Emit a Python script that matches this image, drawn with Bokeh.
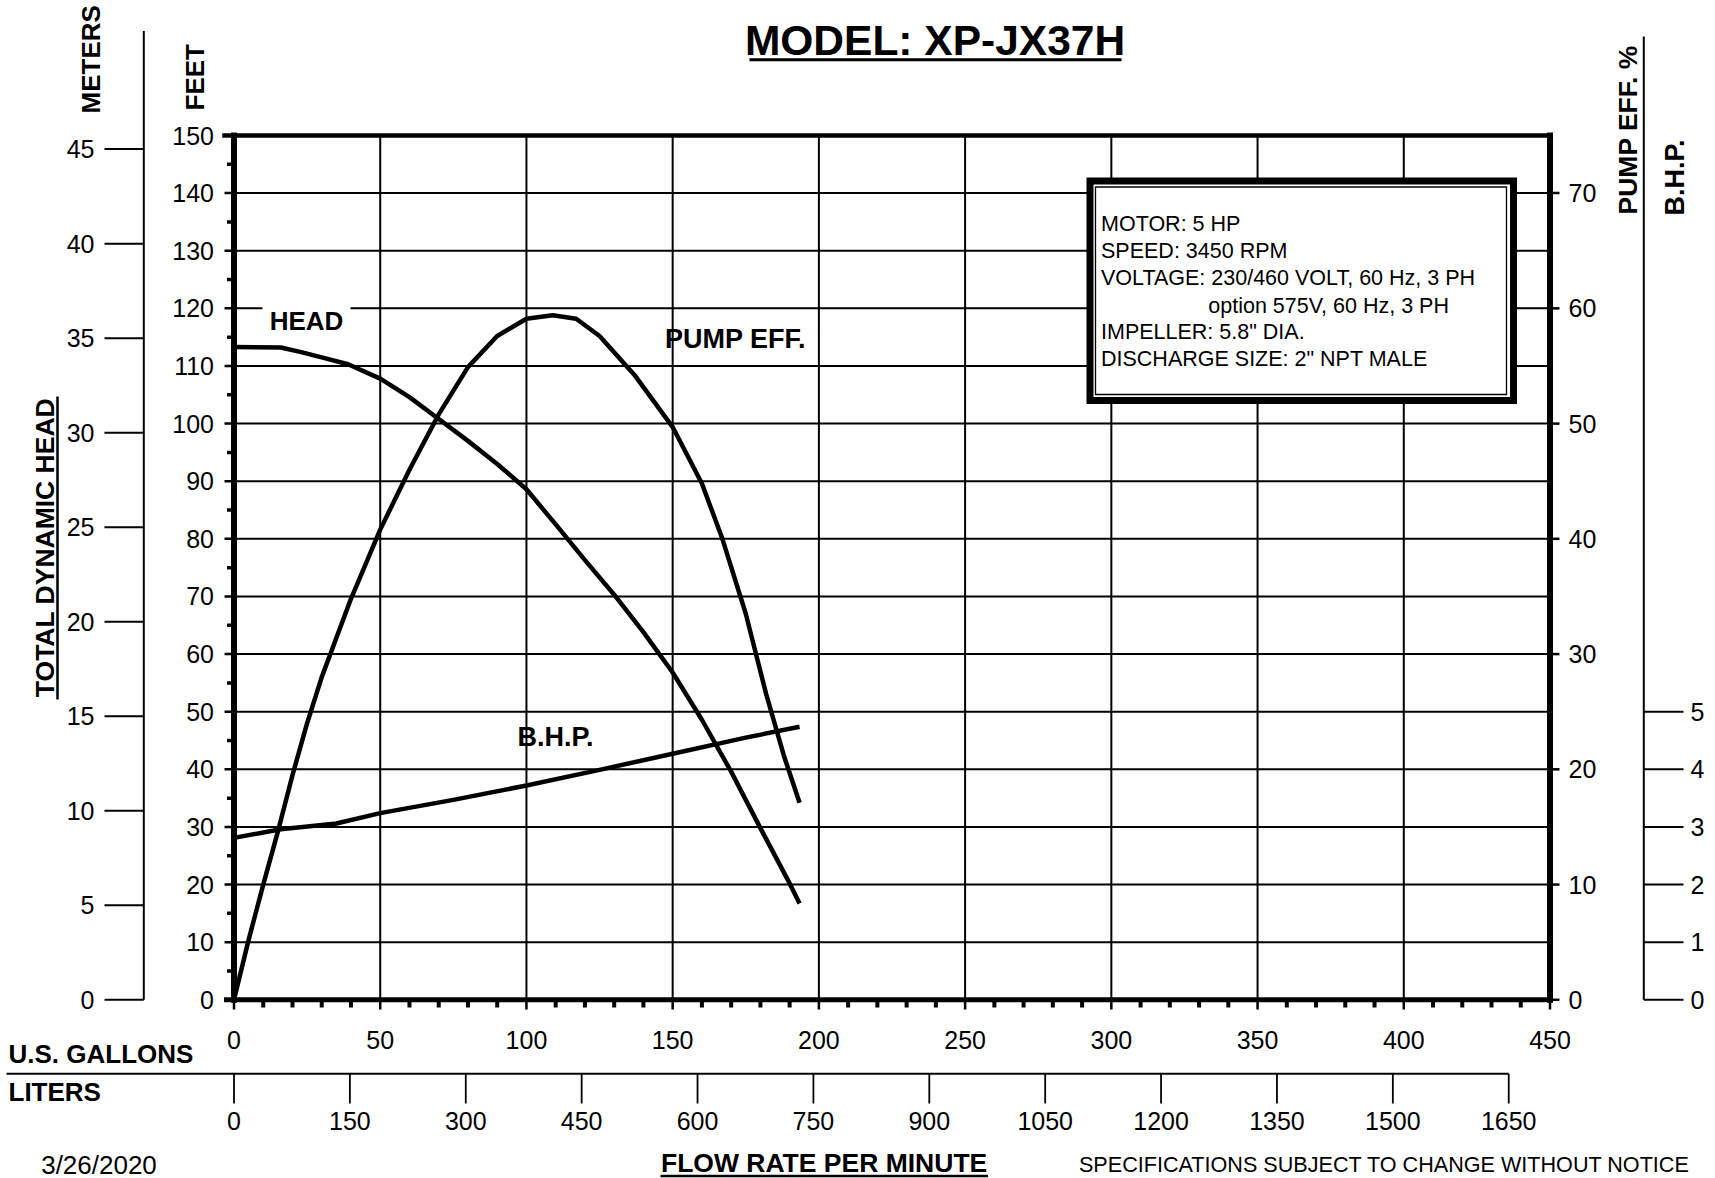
import math
from bokeh.plotting import figure
from bokeh.models import Range1d
from bokeh.core.properties import value
from bokeh.embed import file_html
from bokeh.resources import INLINE

# ---------------- data ----------------
GPM_MAX = 450
FT_MAX = 150
gpm_ticks = [0, 50, 100, 150, 200, 250, 300, 350, 400, 450]
gpm_minor = [g for g in range(10, 450, 10) if g % 50]
feet_ticks = [0, 10, 20, 30, 40, 50, 60, 70, 80, 90, 100, 110, 120, 130, 140, 150]
feet_minor = [5, 15, 25, 35, 45, 55, 65, 75, 85, 95, 105, 115, 125, 135, 145]
meter_ticks = [0, 5, 10, 15, 20, 25, 30, 35, 40, 45]
liter_ticks = [0, 150, 300, 450, 600, 750, 900, 1050, 1200, 1350, 1500, 1650]
eff_ticks = [0, 10, 20, 30, 40, 50, 60, 70]
bhp_ticks = [0, 1, 2, 3, 4, 5]

FT_PER_M = 3.28084
L_PER_GAL = 3.78541
FT_PER_PCT = 2.0     # right axis: 70 % sits on 140 ft
FT_PER_HP = 10.0     # B.H.P. axis: 5 HP sits on 50 ft

head_gpm = [0, 16, 23, 30, 39, 50, 60, 70, 80, 90, 100, 110, 120, 130, 140, 150, 160, 170, 180, 190, 193.4]
head_ft = [113.3, 113.2, 112.4, 111.5, 110.3, 107.8, 104.6, 100.8, 97.0, 93.0, 88.6, 82.5, 76.3, 70.3,
           63.8, 56.8, 48.6, 39.6, 29.8, 20.2, 16.7]

eff_gpm = [0, 5, 10, 15, 20, 25, 30, 40, 50, 60, 70, 80, 90, 100, 109, 117, 125, 137, 150, 160, 167,
           175, 182, 188, 193.4]
eff_pct = [0, 5.2, 10.0, 14.6, 19.5, 24.0, 28.0, 34.8, 40.8, 46.0, 50.8, 54.9, 57.6, 59.1, 59.4, 59.1,
           57.6, 54.2, 49.7, 44.8, 40.0, 33.5, 26.5, 21.2, 17.1]

bhp_gpm = [0, 16, 35, 50, 75, 100, 125, 150, 175, 193.4]
bhp_hp = [2.81, 2.96, 3.06, 3.24, 3.47, 3.72, 3.99, 4.27, 4.55, 4.74]

title_text = "MODEL: XP-JX37H"
info_lines = ["MOTOR: 5 HP", "SPEED: 3450 RPM", "VOLTAGE: 230/460 VOLT, 60 Hz, 3 PH",
              "option 575V, 60 Hz, 3 PH", "IMPELLER: 5.8\" DIA.", "DISCHARGE SIZE: 2\" NPT MALE"]

# ---------------- layout (page pixels -> data) ----------------
W, H = 1715, 1178
OX, OY = 0, 0
X0, X450 = 233.5, 1549.5
Y0, Y150 = 999.3, 135.0
SX = (X450 - X0) / GPM_MAX
SY = (Y0 - Y150) / FT_MAX


def gx(px):
    return (px - X0) / SX


def fy(py):
    return (Y0 - py) / SY


x_start, x_end = gx(OX), gx(OX + W)
y_start, y_end = fy(OY + H), fy(OY)

FONT = value("Liberation Sans")
TICK = "25px"

p = figure(width=W, height=H, output_backend="svg", toolbar_location=None,
           x_range=Range1d(x_start, x_end), y_range=Range1d(y_start, y_end),
           x_axis_location=None, y_axis_location=None, min_border=0,
           background_fill_color="white", border_fill_color="white")
p.outline_line_color = None
p.grid.visible = False
p.extra_y_ranges = {
    "m": Range1d(y_start / FT_PER_M, y_end / FT_PER_M),
    "eff": Range1d(y_start / FT_PER_PCT, y_end / FT_PER_PCT),
    "bhp": Range1d(y_start / FT_PER_HP, y_end / FT_PER_HP),
}
p.extra_x_ranges = {"l": Range1d(x_start * L_PER_GAL, x_end * L_PER_GAL)}


def txt(x, y, t, size, bold=False, align="center", angle=0.0, **kw):
    p.text(x=x, y=y, text=t, text_font=FONT, text_font_size=size,
           text_font_style="bold" if bold else "normal", text_align=align,
           text_baseline="middle", angle=angle, text_color="black", **kw)


# ---------------- grid ----------------
p.segment(x0=gpm_ticks, x1=gpm_ticks, y0=0, y1=FT_MAX, line_color="black", line_width=2)
p.segment(x0=0, x1=GPM_MAX, y0=feet_ticks, y1=feet_ticks, line_color="black", line_width=2)

# ---------------- frame borders ----------------
p.segment(x0=[0], x1=[0], y0=[0], y1=[FT_MAX], line_color="black", line_width=6, line_cap="square")
p.segment(x0=[GPM_MAX], x1=[GPM_MAX], y0=[0], y1=[FT_MAX], line_color="black", line_width=6,
          line_cap="square")
p.segment(x0=[gx(224)], x1=[GPM_MAX], y0=[FT_MAX], y1=[FT_MAX], line_color="black", line_width=4.5,
          line_cap="square")
p.segment(x0=[gx(226)], x1=[GPM_MAX], y0=[0], y1=[0], line_color="black", line_width=5,
          line_cap="square")

# feet axis (left)
p.segment(x0=gx(224), x1=0, y0=feet_ticks, y1=feet_ticks, line_color="black", line_width=2.5)
p.segment(x0=gx(226.5), x1=0, y0=feet_minor, y1=feet_minor, line_color="black", line_width=3.5)
txt(gx(213.5), feet_ticks, [str(t) for t in feet_ticks], TICK, align="right")

# gallons axis (bottom)
p.segment(x0=gpm_ticks, x1=gpm_ticks, y0=0, y1=fy(1009), line_color="black", line_width=2.5)
p.segment(x0=gpm_minor, x1=gpm_minor, y0=0, y1=fy(1007), line_color="black", line_width=4)
txt(gpm_ticks, fy(1039), [str(t) for t in gpm_ticks], TICK)

# pump eff axis (right)
p.segment(x0=GPM_MAX, x1=gx(1559), y0=eff_ticks, y1=eff_ticks, y_range_name="eff",
          line_color="black", line_width=2.5)
txt(gx(1568), eff_ticks, [str(t) for t in eff_ticks], TICK, align="left", y_range_name="eff")

# meters axis (far left)
p.segment(x0=[gx(143.3)], x1=[gx(143.3)], y0=[0], y1=[fy(30.6)], line_color="black", line_width=2)
p.segment(x0=gx(104), x1=gx(143.3), y0=meter_ticks, y1=meter_ticks, y_range_name="m",
          line_color="black", line_width=2)
txt(gx(94), meter_ticks, [str(t) for t in meter_ticks], TICK, align="right", y_range_name="m")

# B.H.P. axis (far right)
p.segment(x0=[gx(1643.3)], x1=[gx(1643.3)], y0=[0], y1=[fy(36)], line_color="black", line_width=2)
p.segment(x0=gx(1643.3), x1=gx(1683), y0=bhp_ticks, y1=bhp_ticks, y_range_name="bhp",
          line_color="black", line_width=2)
txt(gx(1690), bhp_ticks, [str(t) for t in bhp_ticks], TICK, align="left", y_range_name="bhp")

# liters axis (second bottom)
p.segment(x0=[gx(6) * L_PER_GAL], x1=[liter_ticks[-1]], y0=[fy(1073.3)], y1=[fy(1073.3)],
          x_range_name="l", line_color="black", line_width=2)
p.segment(x0=liter_ticks, x1=liter_ticks, y0=fy(1073.3), y1=fy(1103), x_range_name="l",
          line_color="black", line_width=1.8)
txt(liter_ticks, fy(1120), [str(t) for t in liter_ticks], TICK, x_range_name="l")

# ---------------- curves ----------------
p.line(head_gpm, head_ft, line_color="black", line_width=4.5, line_join="round")
p.line(eff_gpm, eff_pct, y_range_name="eff", line_color="black", line_width=4.5, line_join="round")
p.line(bhp_gpm, bhp_hp, y_range_name="bhp", line_color="black", line_width=4.5, line_join="round")

# curve labels
p.quad(left=[gx(262)], right=[gx(350)], top=[fy(302)], bottom=[fy(334)], fill_color="white",
       line_color=None)
txt([gx(306)], [fy(320)], ["HEAD"], "26px", bold=True)
txt([gx(735)], [fy(338)], ["PUMP EFF."], "27px", bold=True)
txt([gx(555)], [fy(736)], ["B.H.P."], "27px", bold=True)

# ---------------- info box ----------------
p.quad(left=[gx(1089.5)], right=[gx(1513)], top=[fy(180.5)], bottom=[fy(400)], fill_color="white",
       line_color="black", line_width=7, line_join="miter")
p.quad(left=[gx(1095)], right=[gx(1506)], top=[fy(186.5)], bottom=[fy(394)], fill_color=None,
       line_color="black", line_width=1.3, line_join="miter")
info_x = [gx(1100.5), gx(1100.5), gx(1100.5), gx(1207.8), gx(1100.5), gx(1100.5)]
info_y = [fy(223.5), fy(250), fy(277.7), fy(305), fy(331.7), fy(358.3)]
txt(info_x, info_y, info_lines, "21.5px", align="left")

# ---------------- titles ----------------
txt([gx(934.5)], [fy(39.5)], [title_text], "42.5px", bold=True)
p.segment(x0=[gx(749)], x1=[gx(1121)], y0=[fy(59.3)], y1=[fy(59.3)], line_color="black", line_width=3)

txt([gx(90)], [fy(113)], ["METERS"], "26px", bold=True, align="left", angle=math.pi / 2)
txt([gx(194)], [fy(110)], ["FEET"], "26px", bold=True, align="left", angle=math.pi / 2)
txt([gx(1627)], [fy(214)], ["PUMP EFF. %"], "26.5px", bold=True, align="left", angle=math.pi / 2)
txt([gx(1674)], [fy(215)], ["B.H.P."], "27px", bold=True, align="left", angle=math.pi / 2)
txt([gx(44)], [fy(547)], ["TOTAL DYNAMIC HEAD"], "26.5px", bold=True, angle=math.pi / 2)
p.segment(x0=[gx(57)], x1=[gx(57)], y0=[fy(396)], y1=[fy(699)], line_color="black", line_width=2.5)

txt([gx(8)], [fy(1053)], ["U.S. GALLONS"], "26px", bold=True, align="left")
txt([gx(8)], [fy(1091)], ["LITERS"], "26px", bold=True, align="left")

txt([gx(98.5)], [fy(1164)], ["3/26/2020"], "26px")
txt([gx(823.6)], [fy(1162)], ["FLOW RATE PER MINUTE"], "26.5px", bold=True)
p.segment(x0=[gx(660)], x1=[gx(987.5)], y0=[fy(1175.5)], y1=[fy(1175.5)], line_color="black",
          line_width=2.5)
txt([gx(1384)], [fy(1164)], ["SPECIFICATIONS SUBJECT TO CHANGE WITHOUT NOTICE"], "21.6px")

with open("out.html", "w") as f:
    f.write(file_html(p, INLINE))
